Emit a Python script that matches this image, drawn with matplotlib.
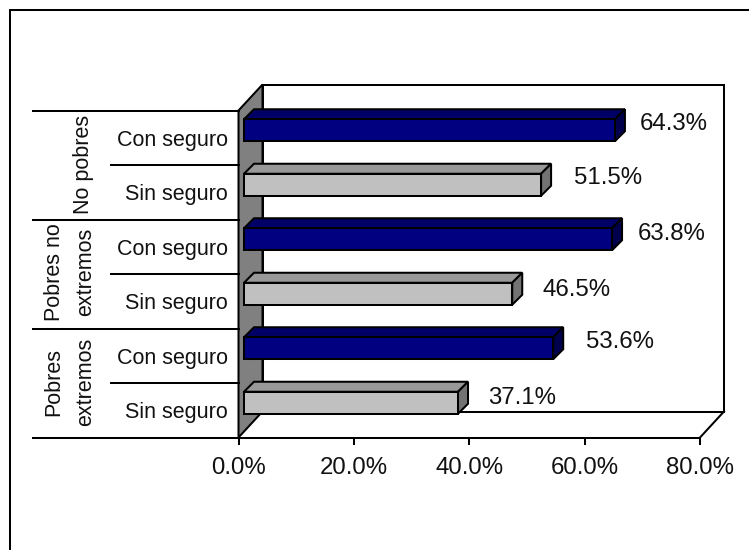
import matplotlib
matplotlib.use("Agg")
import matplotlib.pyplot as plt
from matplotlib.patches import Polygon

plt.rcParams['font.family'] = ['Liberation Sans', 'DejaVu Sans']

# Bottom to top
subcats = ["Sin seguro", "Con seguro", "Sin seguro", "Con seguro", "Sin seguro", "Con seguro"]
values = [37.1, 53.6, 46.5, 63.8, 51.5, 64.3]
groups = ["Pobres\nextremos", "Pobres no\nextremos", "No pobres"]
xticks = [0, 20, 40, 60, 80]

W, H = 749, 550
NAVY, NAVY_TOP, NAVY_SIDE = "#000080", "#000066", "#00004d"
GREY, GREY_TOP, GREY_SIDE = "#c0c0c0", "#999999", "#737373"
WALL = "#808080"
LW = 1.45
FS = 15.5
FSV = 17.3

fig = plt.figure(figsize=(W/100, H/100), dpi=100)
fig.patch.set_facecolor("white")
# outer frame: only its top and left edges fall inside the picture
fig.add_artist(plt.Line2D([10/W, 10/W, 1], [0, 1-10/H, 1-10/H], color="black", lw=LW,
                          solid_joinstyle="miter"))

# front plane of the 3-D box
L, R, T, B = 238.5, 700, 110.5, 437.5
ax = fig.add_axes([L/W, 1-B/H, (R-L)/W, (B-T)/H])
ax.set_xlim(0, 80)
ax.set_ylim(0, 6)
ax.patch.set_alpha(0)
for s in ax.spines.values():
    s.set_visible(False)
ax.spines['bottom'].set_visible(True)
ax.spines['bottom'].set_linewidth(LW)
ax.set_yticks([])
ax.set_xticks(xticks)
ax.set_xticklabels([f"{t:.1f}%" for t in xticks], fontsize=FSV, color="#111111")
ax.tick_params(axis='x', length=5, width=LW, pad=8.7)

ppx = (R-L)/80          # px per x unit
ppy = (B-T)/6           # px per category
def D(x, y, dx, dy):
    return (x + dx/ppx, y + dy/ppy)

DX, DY = 24, 26
wall_kw = dict(ec="black", lw=LW, joinstyle="miter", clip_on=False)
# back wall
ax.add_patch(Polygon([D(0,0,DX,DY), D(80,0,DX,DY), D(80,6,DX,DY), D(0,6,DX,DY)],
                     closed=True, fc="white", **wall_kw))
# floor edge
ax.plot(*zip(D(80,0,0,0), D(80,0,DX,DY)), color="black", lw=LW, clip_on=False)
# left wall
ax.add_patch(Polygon([D(0,0,0,0), D(0,0,DX,DY), D(0,6,DX,DY), D(0,6,0,0)],
                     closed=True, fc=WALL, **wall_kw))

# bars
BH = 22/ppy
FX, FY = 5.5, 7.5
BKX, BKY = 15.5, 17.5
OFF = [(522, 398.5), (620, 341.5), (577, 289.5), (672, 234.5), (608, 177.5), (674, 123.5)]
for i, v in enumerate(values):
    navy = subcats[i] == "Con seguro"
    cf, ct, cs = (NAVY, NAVY_TOP, NAVY_SIDE) if navy else (GREY, GREY_TOP, GREY_SIDE)
    y0, y1 = i + .5 - BH/2, i + .5 + BH/2
    kw = dict(closed=True, ec="black", lw=LW, joinstyle="miter", clip_on=False, zorder=3)
    ax.add_patch(Polygon([D(0,y1,FX,FY), D(v,y1,FX,FY), D(v,y1,BKX,BKY), D(0,y1,BKX,BKY)], fc=ct, **kw))
    ax.add_patch(Polygon([D(v,y0,FX,FY), D(v,y0,BKX,BKY), D(v,y1,BKX,BKY), D(v,y1,FX,FY)], fc=cs, **kw))
    ax.add_patch(Polygon([D(0,y0,FX,FY), D(v,y0,FX,FY), D(v,y1,FX,FY), D(0,y1,FX,FY)], fc=cf, **kw))
    # value label
    px, py = OFF[i]
    ax.text(px/W, 1-py/H, f"{v:.1f}%", transform=fig.transFigure, ha="center", va="center",
            fontsize=FSV, zorder=4, color="#111111")
    # category label
    ax.text(228/W, 1-(B-(i+.5)*ppy+2.5)/H, subcats[i], transform=fig.transFigure,
            ha="right", va="center", fontsize=FS, color="#111111")

# multi-level separators
for k in range(7):
    y = 1-(B-k*ppy)/H
    x0 = 33 if k % 2 == 0 else 111
    fig.add_artist(plt.Line2D([x0/W, L/W], [y, y], color="black", lw=LW))

# group labels
GX = [70, 70, 84]
GY = [382, 272, 164]
for g, gx, gy in zip(groups, GX, GY):
    fig.text(gx/W, 1-gy/H, g, rotation=90, ha="center", va="center", fontsize=FS,
             color="#111111", multialignment="center", linespacing=1.67)

fig.savefig("out.png", dpi=100)
